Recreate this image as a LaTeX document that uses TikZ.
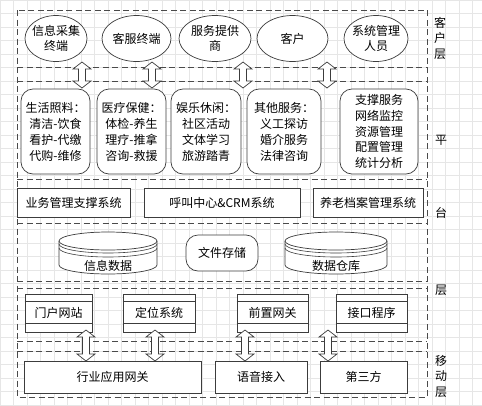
\documentclass[tikz,border=0pt]{standalone}
\usepackage{fontspec}
\usepackage{tikz}
\usetikzlibrary{positioning,calc,shapes.geometric}
\newfontfamily\cjk{Noto Sans CJK SC}
\definecolor{LineGray}{HTML}{3C3C3C}
\definecolor{DashGray}{HTML}{4A4A4A}
\definecolor{GridGray}{HTML}{E6E6E6}

\begin{document}
\begin{tikzpicture}[x=1pt,y=-1pt,
  every node/.style={font=\cjk\fontsize{12}{16}\selectfont},
  layer/.style={DashGray,line width=.8pt,dash pattern=on 6pt off 3.5pt},
  cust/.style={ellipse,draw=LineGray,fill=white,line width=.7pt,inner sep=0pt},
  svc/.style={rectangle,rounded corners=12pt,draw=LineGray,fill=white,line width=.7pt,
              align=center,inner sep=1pt,minimum height=85pt},
  sysbox/.style={rectangle,draw=LineGray,fill=white,line width=.9pt,minimum height=29pt},
  portbox/.style={rectangle,draw=LineGray,fill=white,line width=.7pt,minimum height=38pt},
  mobbox/.style={rectangle,draw=LineGray,fill=white,line width=.8pt,minimum height=32pt},
  cyl/.style={draw=LineGray,fill=white,line width=.7pt},
  updown/.style={draw=LineGray,fill=white,line width=.7pt,line join=miter},
  side/.style={align=center,font=\cjk\fontsize{12}{15.5}\selectfont}]
  \useasboundingbox (0,0) rectangle (482,405);

  % drawing grid
  \draw[GridGray,very thin] (0,0) grid[step=13.5pt] (482,405);

  % frame and layer separators
  \draw[layer] (17,10) rectangle (427,397);
  \foreach \y in {67,81,179,223,281,288,341,351}
    \draw[layer] (17,\y)--(427,\y);

  % customer layer
  \foreach \nm/\x/\w/\t in {e1/56/62/{信息采集\\终端},e2/136.5/69/客服终端,
                              e3/215/72/{服务提供\\商},e4/292.5/71/客户,
                              e5/376/64/{系统管理\\人员}}{
    \node[cust,minimum width=\w pt,minimum height=46pt] (\nm) at (\x,38.5) {};
    \node[align=center,font=\cjk\fontsize{12}{14.5}\selectfont] (\nm t) at (\nm) {\t};
  }

  % service boxes
  \node[svc,minimum width=69pt] (s1) at (55.5,131.5)
       {生活照料：\\清洁-饮食\\看护-代缴\\代购-维修};
  \node[svc,minimum width=69pt] (s2) at (131.5,131.5)
       {医疗保健：\\体检-养生\\理疗-推拿\\咨询-救援};
  \node[svc,minimum width=70pt] (s3) at (206,131.5)
       {娱乐休闲：\\社区活动\\文体学习\\旅游踏青};
  \node[svc,minimum width=74pt] (s4) at (284,131.5)
       {其他服务：\\义工探访\\婚介服务\\法律咨询};
  \node[svc,minimum width=78pt,font=\cjk\fontsize{12}{15.7}\selectfont] (s5) at (379,131.5)
       {支撑服务\\网络监控\\资源管理\\配置管理\\统计分析};

  % arrows customer <-> services (hollow, both ends)
  \foreach \x [count=\i] in {82,152,243,327}{
    \coordinate (ua\i) at (\x,62);
    \draw[updown] (ua\i)--++(9,7)--++(-5.5,0)--++(0,12)--++(5.5,0)--++(-9,7)
                  --++(-9,-7)--++(5.5,0)--++(0,-12)--++(-5.5,0)--cycle;
  }

  % management systems
  \node[sysbox,minimum width=113pt] (m1) at (73.5,202.5) {业务管理支撑系统};
  \node[sysbox,minimum width=156pt] (m2) at (222,202.5) {呼叫中心\&CRM系统};
  \node[sysbox,minimum width=110pt] (m3) at (368,202.5) {养老档案管理系统};

  % storage
  \foreach \nm/\cx/\rx/\t in {d1/108/49/信息数据,d2/336/51/数据仓库}{
    \draw[cyl] ({\cx-\rx},241)--({\cx-\rx},265)
          arc[start angle=180,end angle=360,x radius=\rx pt,y radius=9pt]--({\cx+\rx},241);
    \draw[cyl] (\cx,241) ellipse[x radius=\rx pt,y radius=9pt];
    \draw[LineGray,line width=.6pt] ({\cx-\rx},244)
          arc[start angle=180,end angle=360,x radius=\rx pt,y radius=9pt];
    \draw[LineGray,line width=.6pt] ({\cx-\rx},248)
          arc[start angle=180,end angle=360,x radius=\rx pt,y radius=9pt];
    \node (\nm) at (\cx,266) {\t};
  }
  \node[rectangle,rounded corners=12pt,draw=LineGray,fill=white,line width=.7pt,
        minimum width=72pt,minimum height=36pt] (fs) at (222,253) {文件存储};

  % access layer
  \foreach \nm/\x/\w/\t in {p1/58.5/67/门户网站,p2/159/72/定位系统,
                              p3/272.5/71/前置网关,p4/371.5/71/接口程序}{
    \node[portbox,minimum width=\w pt] (\nm) at (\x,313) {\t};
    \draw[LineGray,line width=.6pt] ([yshift=-8pt]\nm.north west)--([yshift=-8pt]\nm.north east);
    \draw[LineGray,line width=.6pt] ([yshift=9pt]\nm.south west)--([yshift=9pt]\nm.south east);
  }

  % arrows access <-> mobile
  \foreach \x [count=\i] in {86,155,245,328}{
    \coordinate (da\i) at (\x,330);
    \draw[updown] (da\i)--++(9,7)--++(-5.5,0)--++(0,17)--++(5.5,0)--++(-9,7)
                  --++(-9,-7)--++(5.5,0)--++(0,-17)--++(-5.5,0)--cycle;
  }

  % mobile layer
  \node[mobbox,minimum width=177pt] (g1) at (112.5,377) {行业应用网关};
  \node[mobbox,minimum width=92pt] (g2) at (261,377) {语音接入};
  \node[mobbox,minimum width=87pt] (g3) at (363.5,377) {第三方};

  % layer names
  \node[side] (lc) at (440,38) {客\\户\\层};
  \node (lp1) at (441,140) {平};
  \node (lp2) at (441,213) {台};
  \node (lp3) at (441,290) {层};
  \node[side] (lm) at (441,376) {移\\动\\层};
\end{tikzpicture}
\end{document}
